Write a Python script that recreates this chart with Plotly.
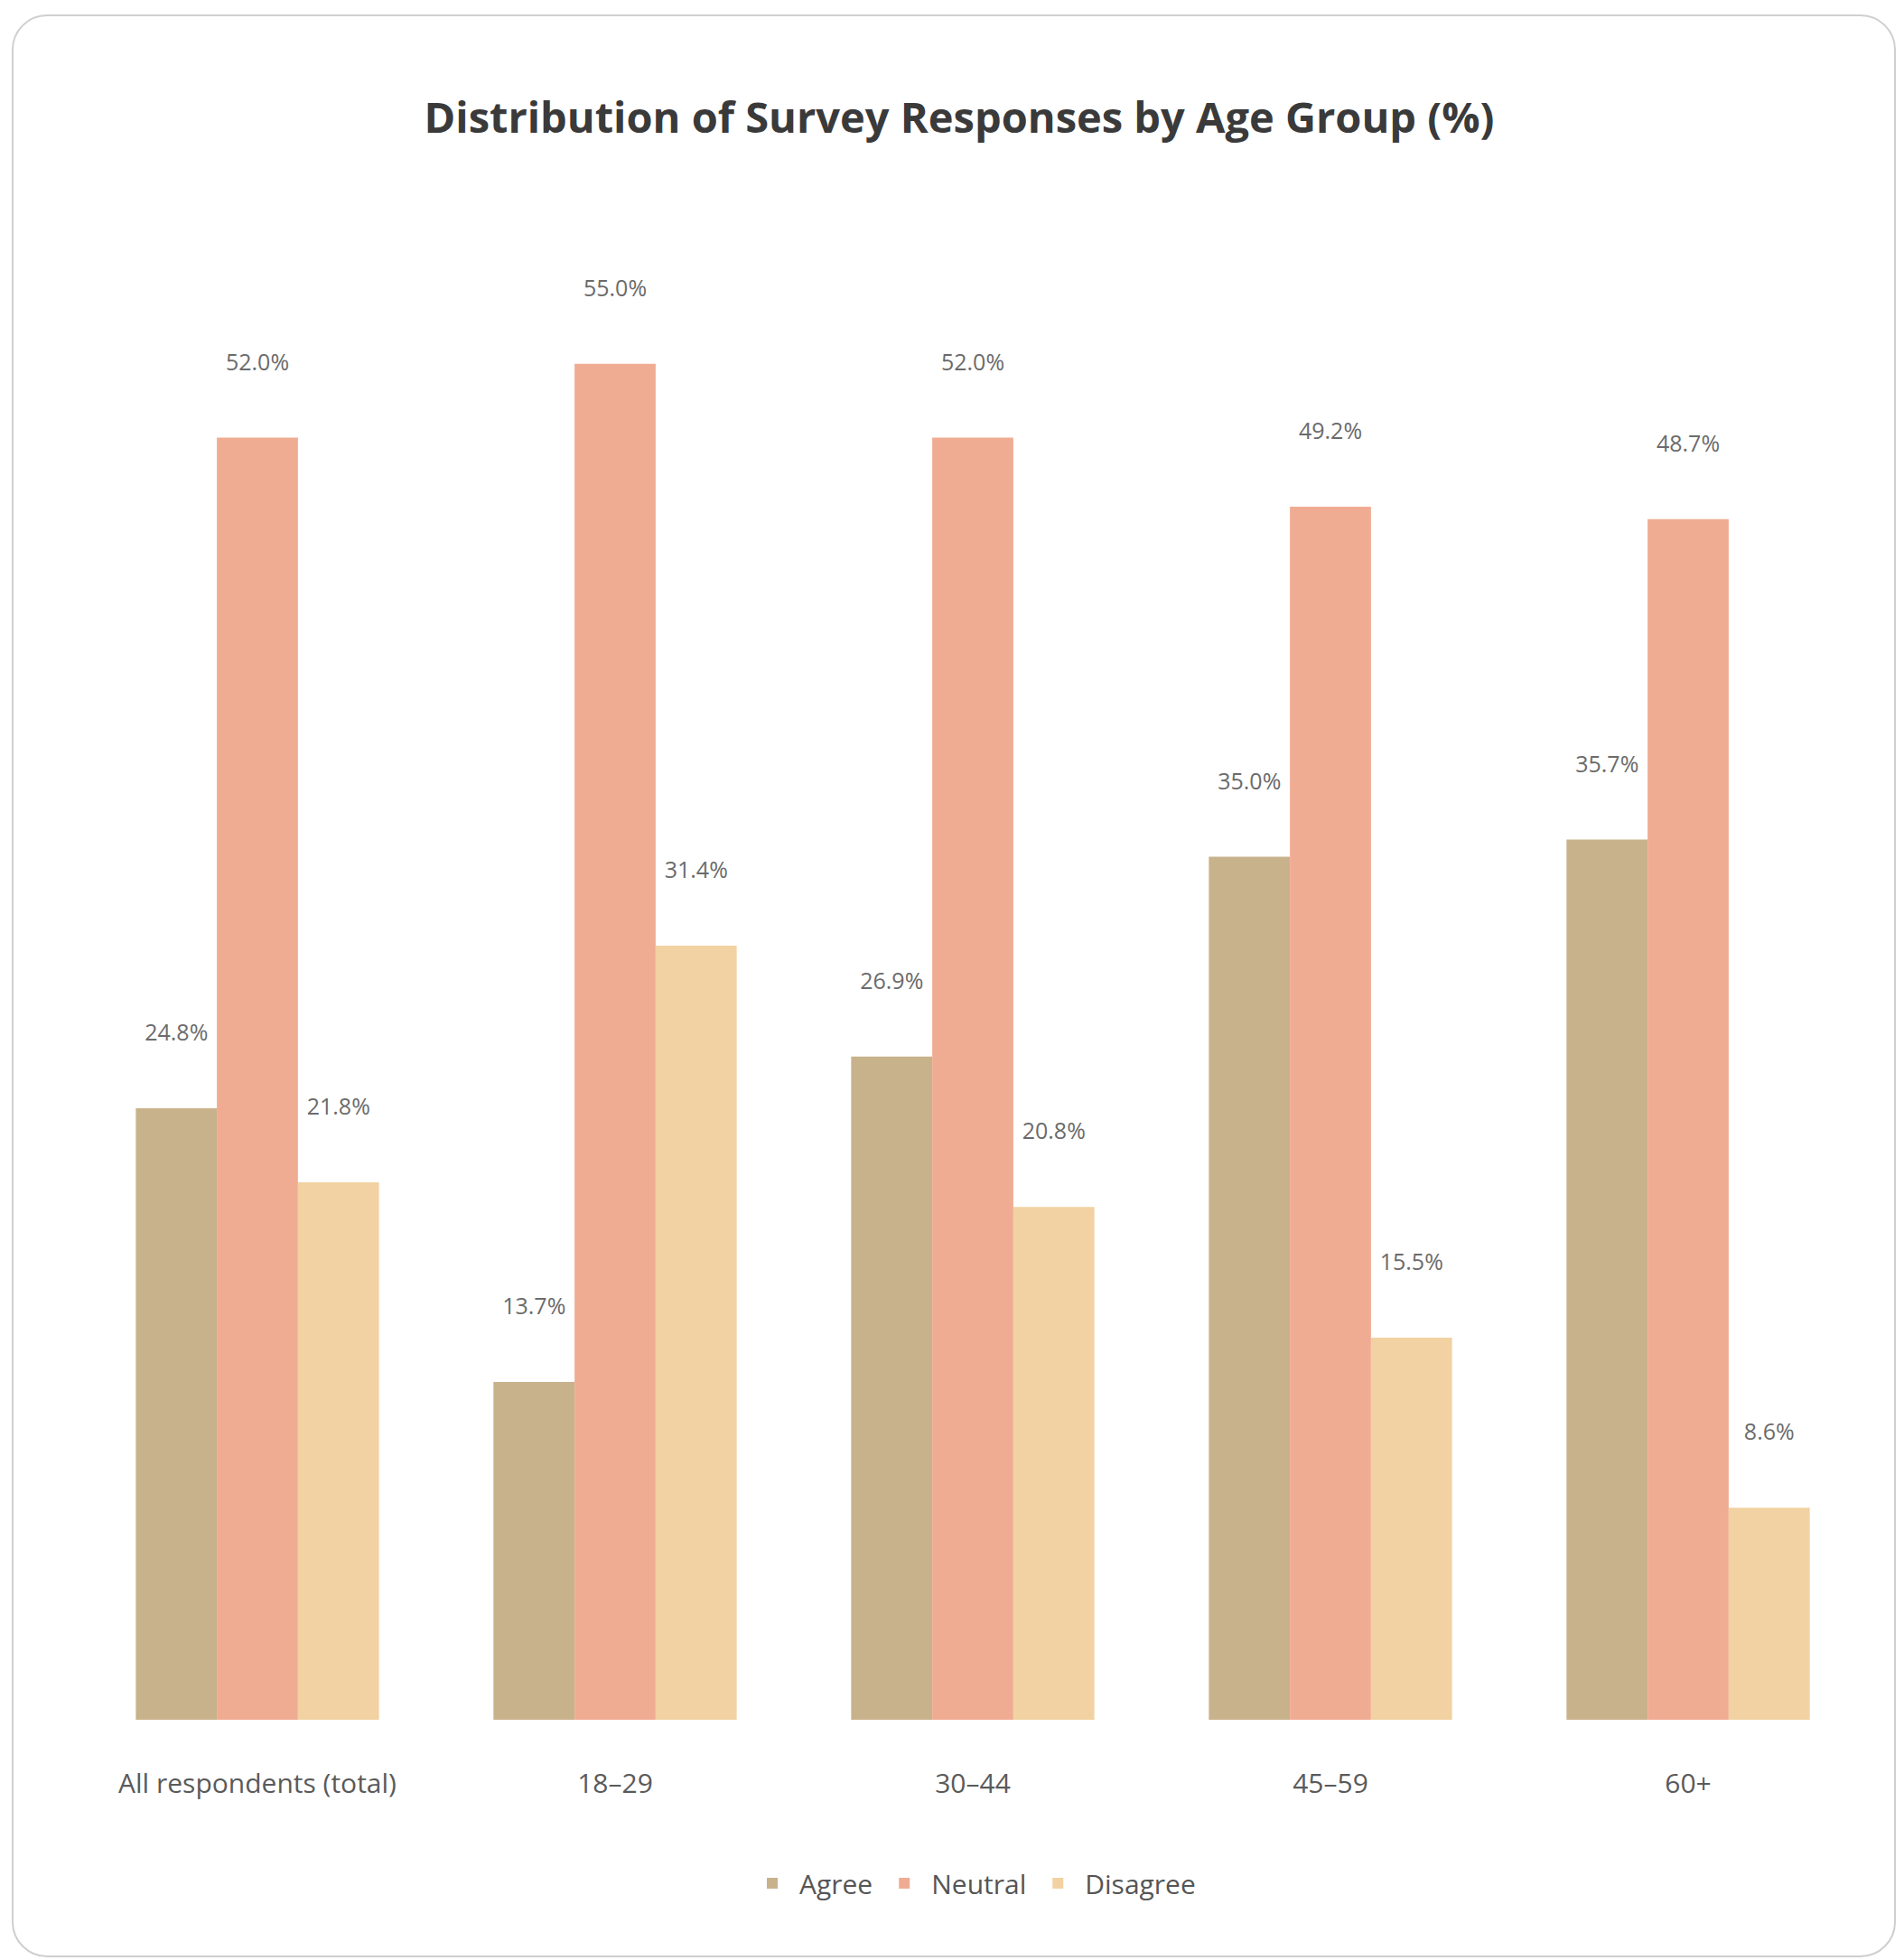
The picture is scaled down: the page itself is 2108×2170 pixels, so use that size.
import plotly.graph_objects as go

categories = ["All respondents (total)", "18–29", "30–44", "45–59", "60+"]
series_names = ["Agree", "Neutral", "Disagree"]
agree = [24.8, 13.7, 26.9, 35.0, 35.7]
neutral = [52.0, 55.0, 52.0, 49.2, 48.7]
disagree = [21.8, 31.4, 20.8, 15.5, 8.6]
series_values = [agree, neutral, disagree]
colors = ["#C8B28C", "#F0AC92", "#F2D2A2"]

W, H = 2108, 2170
ml, mr, mt, mb = 79, 49, 250, 274
pw, ph = W - ml - mr, H - mt - mb

fig = go.Figure()
for name, vals, col in zip(series_names, series_values, colors):
    fig.add_trace(go.Bar(
        x=categories, y=vals, name=name,
        marker=dict(color=col, line=dict(width=0)),
        text=[f"{v:.1f}%" for v in vals],
        texttemplate="%{text}<br> <br> ",
        textposition="outside",
        constraintext="none",
        cliponaxis=False,
        textfont=dict(size=25, color="#6b6b6b", family="Open Sans"),
    ))


def px_to_paper(px, py):
    return (px - ml) / pw, (H - mb - py) / ph


def rounded_rect_path(x0, y0, x1, y1, r):
    def P(x, y):
        a, b = px_to_paper(x, y)
        return f"{a:.5f},{b:.5f}"
    k = 0.45
    return (
        f"M {P(x0 + r, y0)} L {P(x1 - r, y0)} "
        f"C {P(x1 - r * k, y0)} {P(x1, y0 + r * k)} {P(x1, y0 + r)} "
        f"L {P(x1, y1 - r)} "
        f"C {P(x1, y1 - r * k)} {P(x1 - r * k, y1)} {P(x1 - r, y1)} "
        f"L {P(x0 + r, y1)} "
        f"C {P(x0 + r * k, y1)} {P(x0, y1 - r * k)} {P(x0, y1 - r)} "
        f"L {P(x0, y0 + r)} "
        f"C {P(x0, y0 + r * k)} {P(x0 + r * k, y0)} {P(x0 + r, y0)} Z"
    )


fig.add_shape(
    type="path", xref="paper", yref="paper",
    path=rounded_rect_path(6, 9, 2090, 2158, 38),
    line=dict(color="#cfcfcf", width=2), fillcolor="rgba(0,0,0,0)",
    layer="below",
)

fig.update_layout(
    width=W, height=H,
    margin=dict(l=ml, r=mr, t=mt, b=mb),
    paper_bgcolor="white", plot_bgcolor="white",
    barmode="group", bargap=0.32, bargroupgap=0.0,
    title=dict(
        text="<b>Distribution of Survey Responses by Age Group (%)</b>",
        x=0.5, xanchor="center", y=1 - 123 / H, yanchor="middle",
        font=dict(size=47, color="#3a3a3a", family="Open Sans"),
    ),
    xaxis=dict(
        showgrid=False, showline=False, zeroline=False, ticks="",
        ticklabelstandoff=50,
        tickfont=dict(size=30, color="#5a5a5a", family="Open Sans"),
    ),
    yaxis=dict(
        range=[0, 60.3], visible=False, showgrid=False, zeroline=False,
    ),
    legend=dict(
        orientation="h", x=0.5, xanchor="center",
        y=(H - mb - 2077) / ph, yanchor="middle",
        font=dict(size=30, color="#555555", family="Open Sans"),
        itemwidth=50,
    ),
    font=dict(family="Open Sans"),
    showlegend=True,
)

fig.write_html("out.html")
